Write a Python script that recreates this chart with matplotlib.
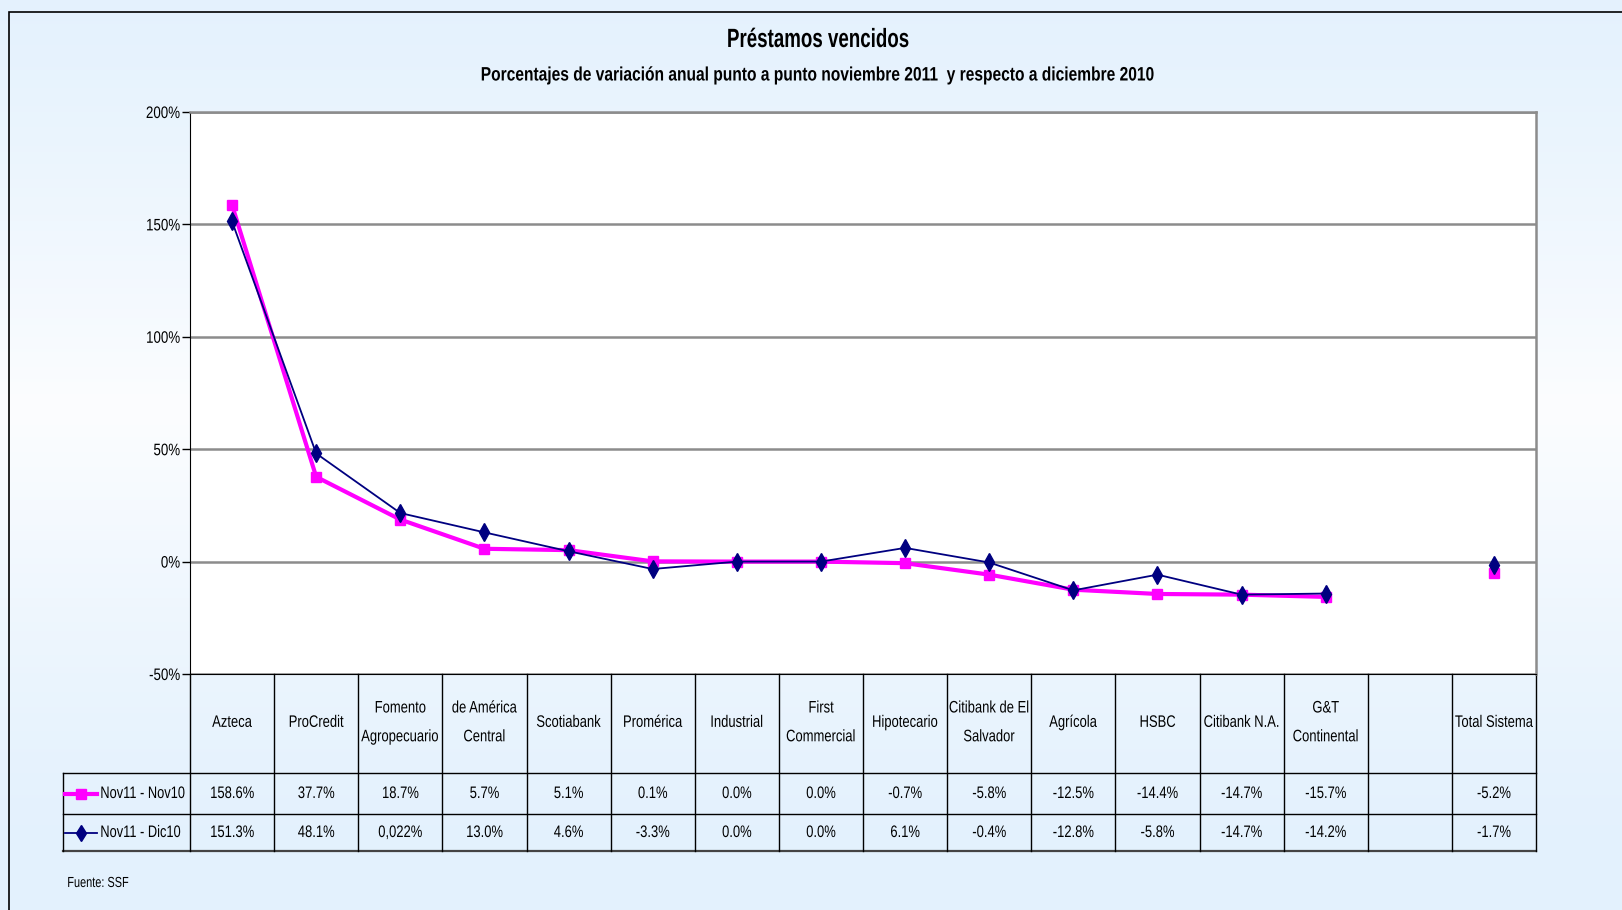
import numpy as np
import matplotlib
matplotlib.use("Agg")
import matplotlib.pyplot as plt
from matplotlib import font_manager
from matplotlib.lines import Line2D
from matplotlib.patches import Rectangle
from matplotlib.path import Path
from matplotlib.patheffects import AbstractPathEffect
from matplotlib.transforms import Affine2D

# pick a condensed family if there is one, else squeeze the glyphs below
names = {f.name for f in font_manager.fontManager.ttflist}
NARROW = "Liberation Sans Narrow" in names
family = "Liberation Sans Narrow" if NARROW else "Liberation Sans"
plt.rcParams['font.family'] = [family, 'DejaVu Sans']


class Condense(AbstractPathEffect):
    """squeeze text horizontally around its left/centre/right edge"""
    def __init__(self, sx=0.8, anchor='center'):
        super().__init__()
        self.sx = 1.0 if NARROW else sx
        self.anchor = anchor

    def draw_path(self, renderer, gc, tpath, affine, rgbFace=None):
        v = tpath.vertices
        if tpath.codes is not None:
            v = v[tpath.codes != Path.CLOSEPOLY]
        if len(v) == 0:
            return
        if self.anchor == 'left':
            cx = v[:, 0].min()
        elif self.anchor == 'right':
            cx = v[:, 0].max()
        else:
            cx = (v[:, 0].min() + v[:, 0].max()) / 2
        t = Affine2D().translate(-cx, 0).scale(self.sx, 1).translate(cx, 0) + affine
        renderer.draw_path(gc, tpath, t, rgbFace)


# data
banks = ["Azteca", "ProCredit", "Fomento\nAgropecuario", "de América\nCentral", "Scotiabank",
         "Promérica", "Industrial", "First\nCommercial", "Hipotecario", "Citibank de El\nSalvador",
         "Agrícola", "HSBC", "Citibank N.A.", "G&T\nContinental", "", "Total Sistema"]
nov_nov = [158.6, 37.7, 18.7, 5.7, 5.1, 0.1, 0.0, 0.0, -0.7, -5.8, -12.5, -14.4, -14.7, -15.7, np.nan, -5.2]
nov_dic = [151.3, 48.1, 21.6, 13.0, 4.6, -3.3, 0.0, 0.0, 6.1, -0.4, -12.8, -5.8, -14.7, -14.2, np.nan, -1.7]
labels_nov = ["158.6%", "37.7%", "18.7%", "5.7%", "5.1%", "0.1%", "0.0%", "0.0%", "-0.7%", "-5.8%",
              "-12.5%", "-14.4%", "-14.7%", "-15.7%", "", "-5.2%"]
labels_dic = ["151.3%", "48.1%", "0,022%", "13.0%", "4.6%", "-3.3%", "0.0%", "0.0%", "6.1%", "-0.4%",
              "-12.8%", "-5.8%", "-14.7%", "-14.2%", "", "-1.7%"]
series_names = ["Nov11 - Nov10", "Nov11 - Dic10"]
yticks = [-50, 0, 50, 100, 150, 200]

W, H = 1622, 910
fig = plt.figure(figsize=(W / 100, H / 100), dpi=100)

# light blue background, whiter band across the middle
bg = fig.add_axes([0, 0, 1, 1], zorder=-10)
yy = np.linspace(0, 1, 300)  # 0 = top
g = np.clip(1 - np.abs(yy - 0.45) / 0.5, 0, 1) ** 1.3
c0 = np.array([0xE3, 0xF1, 0xFD]) / 255
c1 = np.array([0xFC, 0xFD, 0xFF]) / 255
img = c0[None, :] * (1 - g[:, None]) + c1[None, :] * g[:, None]
img = np.repeat(img[:, None, :], 10, axis=1)
bg.imshow(img, origin='upper', extent=[0, 1, 0, 1], aspect='auto')
bg.add_patch(Rectangle((9 / W, -0.1), 1.2, 1 - 12 / H + 0.1, fill=False, edgecolor='black', lw=1.2))
bg.set_xlim(0, 1)
bg.set_ylim(0, 1)
bg.axis('off')

left, right, top, bottom = 190, 1536, 112, 674
ax = fig.add_axes([left / W, 1 - bottom / H, (right - left) / W, (bottom - top) / H])
ax.set_facecolor('white')

x = np.arange(len(banks))
ax.plot(x, nov_nov, color='#FF00FF', lw=3, marker='s', ms=7.5, zorder=3)
ax.plot(x, nov_dic, color='#000080', lw=1.3, marker='d', ms=9, zorder=4)

ax.set_xlim(-0.5, len(banks) - 0.5)
ax.set_ylim(-50, 200)
ax.set_yticks(yticks)
ax.set_yticklabels([f"{v}%" for v in yticks], fontsize=12)
for t in ax.get_yticklabels():
    t.set_path_effects([Condense(0.8, 'right')])
ax.tick_params(axis='y', direction='out', length=6, width=1, pad=1)
ax.set_xticks([])
ax.grid(axis='y', color='#8c8c8c', lw=1.8)
ax.set_axisbelow(True)
ax.spines['left'].set_color('black')
for s in ['top', 'right']:
    ax.spines[s].set_color('#8c8c8c')
    ax.spines[s].set_linewidth(1.8)
ax.spines['bottom'].set_color('black')

# data table under the plot
n = len(banks)
ph = bottom - top
r0 = 0.0
r1 = -99 / ph
r2 = -140 / ph
r3 = -177 / ph
lab_left = (63 - left) / (right - left)
kw = dict(transform=ax.transAxes, color='black', lw=1, clip_on=False)
ax.add_line(Line2D([lab_left, 1], [r1, r1], **kw))
ax.add_line(Line2D([lab_left, 1], [r2, r2], **kw))
ax.add_line(Line2D([lab_left, 1], [r3, r3], color='#444444', lw=1.6, transform=ax.transAxes, clip_on=False))
ax.add_line(Line2D([lab_left, lab_left], [r1, r3], **kw))
for i in range(n + 1):
    ax.add_line(Line2D([i / n, i / n], [r0, r3], **kw))
cond = [Condense(0.78, 'center')]
for i in range(n):
    cx = (i + 0.5) / n
    ax.text(cx, (r0 + r1) / 2 + 0.002, banks[i], transform=ax.transAxes, ha='center', va='center',
            fontsize=12, linespacing=2.15, path_effects=cond)
    ax.text(cx, (r1 + r2) / 2, labels_nov[i], transform=ax.transAxes, ha='center', va='center',
            fontsize=12, path_effects=cond)
    ax.text(cx, (r2 + r3) / 2, labels_dic[i], transform=ax.transAxes, ha='center', va='center',
            fontsize=12, path_effects=cond)

# legend keys in the row label cells
lx0 = (65 - left) / (right - left)
lx1 = (97 - left) / (right - left)
for (ya, yb), name, col, lw, mk, ms in [((r1, r2), series_names[0], '#FF00FF', 3, 's', 7.5),
                                        ((r2, r3), series_names[1], '#000080', 1.3, 'd', 8)]:
    yc = (ya + yb) / 2
    ax.add_line(Line2D([lx0, lx1], [yc, yc], color=col, lw=lw, transform=ax.transAxes, clip_on=False))
    ax.add_line(Line2D([(lx0 + lx1) / 2], [yc], color=col, marker=mk, ms=ms, transform=ax.transAxes,
                       clip_on=False))
    ax.text((100 - left) / (right - left), yc, name, transform=ax.transAxes, ha='left', va='center',
            fontsize=12, path_effects=[Condense(0.77, 'left')])

fig.text(818 / W, 1 - 40 / H, "Préstamos vencidos", ha='center', va='center', fontsize=19,
         fontweight='bold', path_effects=[Condense(0.71)])
fig.text(818 / W, 1 - 76 / H, "Porcentajes de variación anual punto a punto noviembre 2011  y respecto a diciembre 2010",
         ha='center', va='center', fontsize=14, fontweight='bold', path_effects=[Condense(0.8)])
fig.text(67 / W, 1 - 883 / H, "Fuente: SSF", ha='left', va='center', fontsize=10.5,
         path_effects=[Condense(0.75, 'left')])

fig.savefig("out.png", dpi=100)
